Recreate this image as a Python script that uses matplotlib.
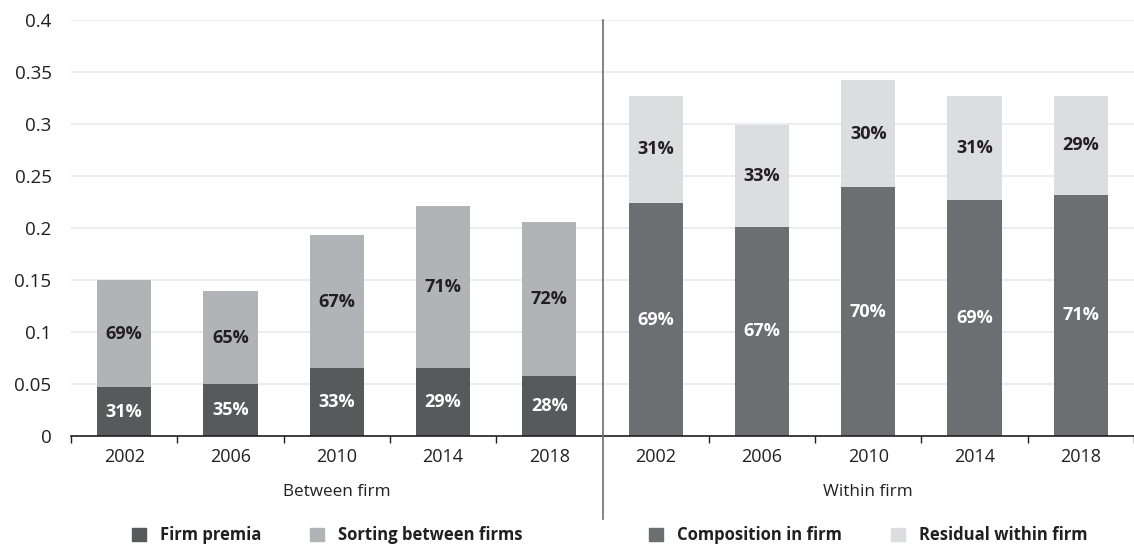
import matplotlib
matplotlib.use("Agg")
import matplotlib.pyplot as plt
from matplotlib.patches import Patch
import numpy as np

plt.rcParams['font.family'] = ['Open Sans', 'DejaVu Sans']

# ---- data ----
years = ["2002", "2006", "2010", "2014", "2018"]
groups = ["Between firm", "Within firm"]

firm_premia = [0.047, 0.050, 0.065, 0.065, 0.058]
sorting_between = [0.103, 0.089, 0.128, 0.156, 0.148]
composition_in = [0.224, 0.201, 0.239, 0.227, 0.232]
residual_within = [0.103, 0.098, 0.103, 0.100, 0.095]

firm_premia_lbl = ["31%", "35%", "33%", "29%", "28%"]
sorting_lbl = ["69%", "65%", "67%", "71%", "72%"]
composition_lbl = ["69%", "67%", "70%", "69%", "71%"]
residual_lbl = ["31%", "33%", "30%", "31%", "29%"]

yticks = [0, 0.05, 0.1, 0.15, 0.2, 0.25, 0.3, 0.35, 0.4]
ytick_labels = ["0", "0.05", "0.1", "0.15", "0.2", "0.25", "0.3", "0.35", "0.4"]

series_names = ["Firm premia", "Sorting between firms", "Composition in firm", "Residual within firm"]
c_premia = "#58595b"
c_sort = "#b1b3b6"
c_comp = "#6d6e71"
c_resid = "#dcdddf"
txt = "#231f20"

# ---- figure ----
fig = plt.figure(figsize=(11.34, 5.47), dpi=100)
ax = fig.add_axes([71/1134, 1 - 436/547, 1 - 71/1134, (436 - 20)/547])

n = len(years)
xl = np.arange(n)
xr = np.arange(n) + n
w = 0.51

b1 = ax.bar(xl, firm_premia, w, color=c_premia, zorder=3)
b2 = ax.bar(xl, sorting_between, w, bottom=firm_premia, color=c_sort, zorder=3)
b3 = ax.bar(xr, composition_in, w, color=c_comp, zorder=3)
b4 = ax.bar(xr, residual_within, w, bottom=composition_in, color=c_resid, zorder=3)

lbl_kw = dict(label_type='center', fontsize=13, fontweight='bold')
ax.bar_label(b1, labels=firm_premia_lbl, color='white', **lbl_kw)
ax.bar_label(b2, labels=sorting_lbl, color=txt, **lbl_kw)
ax.bar_label(b3, labels=composition_lbl, color='white', **lbl_kw)
ax.bar_label(b4, labels=residual_lbl, color=txt, **lbl_kw)

ax.set_xlim(-0.5, 2 * n - 0.5)
ax.set_ylim(0, 0.4)
ax.set_yticks(yticks)
ax.set_yticklabels(ytick_labels)
ax.yaxis.grid(True, color="#e9e9e9", linewidth=1.2, zorder=0)
ax.set_axisbelow(True)

ax.set_xticks(np.concatenate([xl, xr]))
ax.set_xticklabels(years + years)
bounds = [i - 0.5 for i in range(2 * n) if i != n] + [2 * n - 0.5]
ax.set_xticks(bounds, minor=True)
ax.tick_params(axis='x', which='major', length=0, pad=9, labelsize=13, labelcolor=txt)
ax.tick_params(axis='x', which='minor', length=5, width=1, color=txt)
ax.tick_params(axis='y', length=0, pad=14, labelsize=13.5, labelcolor=txt)

for s in ['left', 'right', 'top']:
    ax.spines[s].set_visible(False)
ax.spines['bottom'].set_color(txt)
ax.spines['bottom'].set_linewidth(1.2)
ax.spines['bottom'].set_zorder(4)

# divider between groups
ax.axvline(n - 0.5, ymin=-0.2, ymax=1.0, color="#6d6e71", linewidth=1.2, clip_on=False, zorder=5)

# group labels
ax.text((n - 1) / 2, -0.135, groups[0], transform=ax.get_xaxis_transform(),
        ha='center', va='center', fontsize=12.3, color=txt)
ax.text(n + (n - 1) / 2, -0.135, groups[1], transform=ax.get_xaxis_transform(),
        ha='center', va='center', fontsize=12.3, color=txt)

# legends
h1 = [Patch(color=c_premia, label=series_names[0]), Patch(color=c_sort, label=series_names[1])]
h2 = [Patch(color=c_comp, label=series_names[2]), Patch(color=c_resid, label=series_names[3])]
leg_kw = dict(ncol=2, frameon=False, loc='center left', borderpad=0, borderaxespad=0,
              handlelength=0.85, handleheight=0.85, handletextpad=0.85, columnspacing=2.9,
              prop={'weight': 'bold', 'size': 12})
l1 = fig.legend(handles=h1, bbox_to_anchor=(132/1134, 1 - 535/547), **leg_kw)
l2 = fig.legend(handles=h2, bbox_to_anchor=(649/1134, 1 - 535/547), **leg_kw)
for lg in (l1, l2):
    for t in lg.get_texts():
        t.set_color(txt)

fig.savefig("out.png", dpi=100)
